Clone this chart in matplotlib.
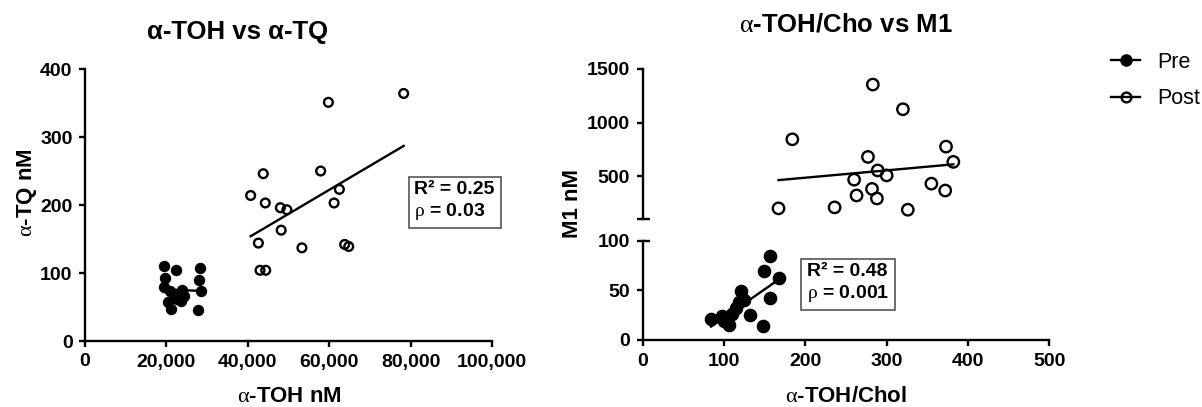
import matplotlib

matplotlib.use("Agg")
import matplotlib.pyplot as plt
import numpy as np
from matplotlib.lines import Line2D
from matplotlib.ticker import FuncFormatter

W, H = 1202, 407

# left panel: alpha-TOH (nM) vs alpha-TQ (nM)
toh_pre = [19300, 19700, 19300, 22400, 20500, 21100, 21000, 22000, 23000,
           23900, 23700, 24300, 22600, 28300, 27900, 28600, 27800]
tq_pre = [111, 92, 80, 104, 57, 47, 73, 68, 64, 75, 59, 66, 62, 108, 90, 73, 45]
toh_post = [40700, 43800, 44300, 48000, 49600, 48200, 42600, 43000, 44400,
            53300, 57900, 59800, 62500, 61200, 63800, 64800, 78300]
tq_post = [214, 246, 203, 196, 193, 163, 144, 104, 104, 137, 250, 351, 223,
           203, 142, 139, 364]

# right panel: alpha-TOH/Chol vs M1 (nM)
chol_pre = [84, 97, 100, 103, 106, 110, 115, 119, 121, 124, 132, 148, 149,
            157, 157, 167]
m1_pre = [21, 24, 19, 22, 15, 26, 32, 38, 49, 40, 25, 14, 69, 85, 42, 62]
chol_post = [167, 184, 236, 260, 263, 277, 282, 283, 289, 288, 300, 320, 326,
             355, 373, 372, 382]
m1_post = [202, 845, 211, 469, 322, 681, 383, 1355, 555, 294, 509, 1125, 189,
           432, 777, 368, 635]

stats_left = ("0.25", "0.03")
stats_right = ("0.48", "0.001")

LW = 1.7
ALPHA = r"$\mathrm{\alpha}$"
RHO = r"$\mathrm{\rho}$"
TICK_FS = 14
LABEL_FS = 16
TITLE_FS = 18.5


def box(l, t, r, b):
    # pixel box (from top-left) -> figure fraction rect
    return [l / W, 1 - b / H, (r - l) / W, (b - t) / H]


def style(ax, bottom=True):
    for s in ("top", "right"):
        ax.spines[s].set_visible(False)
    for s in ("left", "bottom"):
        ax.spines[s].set_linewidth(LW)
    ax.tick_params(width=LW, length=4, labelsize=TICK_FS, pad=5)
    for lab in ax.get_xticklabels() + ax.get_yticklabels():
        lab.set_fontweight("bold")
    if not bottom:
        ax.spines["bottom"].set_visible(False)
        ax.tick_params(axis="x", bottom=False, labelbottom=False)


def fit_line(ax, x, y):
    x = np.asarray(x, float)
    y = np.asarray(y, float)
    k, b = np.polyfit(x, y, 1)
    xs = np.array([x.min(), x.max()])
    ax.plot(xs, k * xs + b, color="black", lw=LW, zorder=2)


def cap(ax, y):
    # small horizontal bar to the right of the axis (segment end)
    ax.plot([0, 0.018], [y, y], color="black", lw=LW, transform=ax.transAxes,
            clip_on=False, solid_capstyle="butt")


def stats_box(ax, x, y, r2, p):
    ax.text(x, y, f"R² = {r2}\n{RHO} = {p}", ha="center", va="center",
            multialignment="left", fontsize=14, fontweight="bold",
            bbox=dict(boxstyle="square,pad=0.3", fc="white", ec="#555555",
                      lw=1.2))


def main():
    plt.rcParams.update({
        "font.family": ["Liberation Sans", "DejaVu Sans"],
        "mathtext.fontset": "custom",
        "mathtext.rm": "Liberation Serif",
    })
    fig = plt.figure(figsize=(W / 100, H / 100), dpi=100)

    # ---- left panel
    ax = fig.add_axes(box(85, 69, 492, 341))
    ax.scatter(toh_pre, tq_pre, s=7.2 ** 2, c="black", zorder=3, clip_on=False)
    ax.scatter(toh_post, tq_post, s=6.3 ** 2, facecolors="none",
               edgecolors="black", linewidths=LW, zorder=3, clip_on=False)
    fit_line(ax, toh_pre, tq_pre)
    fit_line(ax, toh_post, tq_post)
    ax.set_xlim(0, 100000)
    ax.set_ylim(0, 400)
    ax.set_xticks(range(0, 100001, 20000))
    ax.set_yticks(range(0, 401, 100))
    ax.xaxis.set_major_formatter(FuncFormatter(lambda v, p: f"{int(v):,}"))
    style(ax)
    stats_box(ax, 90800, 205, *stats_left)
    fig.text(238 / W, 1 - 32 / H, "α-TOH vs α-TQ", ha="center", va="center",
             fontsize=TITLE_FS, fontweight="bold")
    fig.text(289 / W, 1 - 397 / H, f"{ALPHA}-TOH nM", ha="center",
             va="center", fontsize=LABEL_FS, fontweight="bold")
    fig.text(27 / W, 1 - 193 / H, f"{ALPHA}-TQ nM", ha="center", va="center",
             rotation=90, fontsize=LABEL_FS, fontweight="bold")

    # ---- right panel, broken y axis
    lo = fig.add_axes(box(642.7, 240.7, 1049.3, 340))
    hi = fig.add_axes(box(642.7, 69, 1049.3, 219.3), sharex=lo)
    lo.scatter(chol_pre, m1_pre, s=8.8 ** 2, c="black", zorder=3,
               clip_on=False)
    fit_line(lo, chol_pre, m1_pre)
    hi.scatter(chol_post, m1_post, s=8.2 ** 2, facecolors="none",
               edgecolors="black", linewidths=LW, zorder=3, clip_on=False)
    fit_line(hi, chol_post, m1_post)
    lo.set_xlim(0, 500)
    lo.set_ylim(0, 100)
    hi.set_ylim(100, 1500)
    lo.set_xticks(range(0, 501, 100))
    lo.set_yticks([0, 50, 100])
    hi.set_yticks([100, 500, 1000, 1500])
    hi.set_yticklabels(["", "500", "1000", "1500"])
    style(lo)
    style(hi, bottom=False)
    cap(lo, 1)
    cap(hi, 0)
    stats_box(lo, 253, 57, *stats_right)
    fig.text(846 / W, 1 - 25 / H, f"{ALPHA}-TOH/Cho vs M1", ha="center",
             va="center", fontsize=TITLE_FS, fontweight="bold")
    fig.text(846 / W, 1 - 397 / H, f"{ALPHA}-TOH/Chol", ha="center",
             va="center", fontsize=LABEL_FS, fontweight="bold")
    fig.text(572 / W, 1 - 203 / H, "M1 nM", ha="center", va="center",
             rotation=90, fontsize=LABEL_FS, fontweight="bold")

    # ---- legend
    handles = [
        Line2D([], [], color="black", lw=LW, marker="o", markersize=8,
               label="Pre"),
        Line2D([], [], color="black", lw=LW, marker="o", markersize=7,
               markerfacecolor="none", markeredgewidth=LW, label="Post"),
    ]
    fig.legend(handles=handles, loc="upper left",
               bbox_to_anchor=(1111 / W, 1 - 52 / H), frameon=False,
               fontsize=15.5, borderpad=0, borderaxespad=0, handlelength=1.35,
               handletextpad=0.8, labelspacing=0.72)

    fig.savefig("out.png", dpi=100)


if __name__ == "__main__":
    main()
